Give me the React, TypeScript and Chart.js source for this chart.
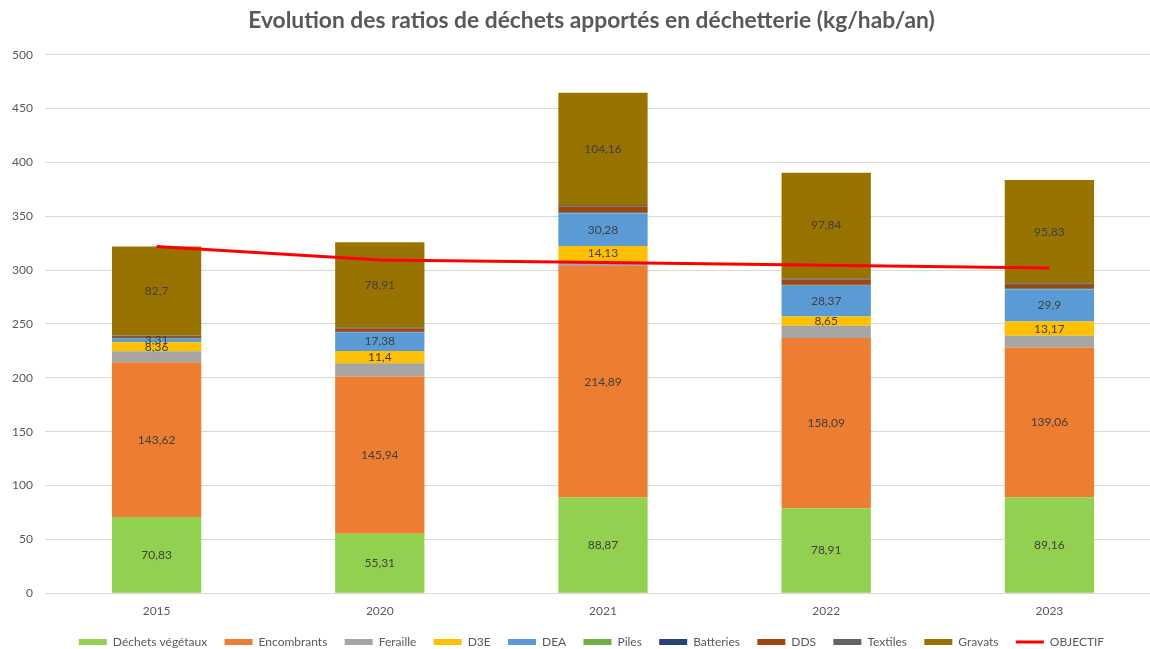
import React, { useEffect, useRef } from "react";
import { Chart, registerables } from "chart.js";

Chart.register(...registerables);

const categories = ["2015", "2020", "2021", "2022", "2023"];

const vegetaux = [70.83, 55.31, 88.87, 78.91, 89.16];
const encombrants = [143.62, 145.94, 214.89, 158.09, 139.06];
const feraille = [10.2, 12.3, 4.5, 11.4, 10.8];
const d3e = [8.36, 11.4, 14.13, 8.65, 13.17];
const dea = [3.31, 17.38, 30.28, 28.37, 29.9];
const piles = [0.2, 0.2, 0.3, 0.3, 0.3];
const batteries = [0.3, 0.3, 0.4, 0.8, 0.5];
const dds = [1.2, 3.3, 5.5, 4.5, 3.4];
const textiles = [1.2, 0.8, 1.5, 1.5, 1.5];
const gravats = [82.7, 78.91, 104.16, 97.84, 95.83];
const objectif = [321.9, 309.5, 307, 304.5, 302];

const yTicks = { min: 0, max: 500, step: 50 };

const FONT = "Lato, 'Open Sans', 'Liberation Sans', sans-serif";
const TEXT = "#595959";

const labelPlugin = {
  id: "segLabels",
  afterDatasetsDraw(chart: any) {
    const ctx = chart.ctx;
    ctx.save();
    ctx.font = `12px ${FONT}`;
    ctx.fillStyle = "#404040";
    ctx.textAlign = "center";
    ctx.textBaseline = "middle";
    chart.data.datasets.forEach((ds: any, i: number) => {
      if (!ds.showLabels) return;
      const meta = chart.getDatasetMeta(i);
      meta.data.forEach((el: any, j: number) => {
        const p = el.getProps(["x", "y", "base"], true);
        const v = ds.data[j];
        ctx.fillText(String(v).replace(".", ","), p.x, (p.y + p.base) / 2);
      });
    });
    ctx.restore();
  },
};

// centre title and legend on the whole chart frame rather than the plot
const shiftPlugin = {
  id: "shiftBlocks",
  afterLayout(chart: any) {
    const shift = 22;
    [chart.legend, chart.titleBlock].forEach((b: any) => {
      if (b) {
        b.left += shift;
      }
    });
  },
};

export default function App() {
  const ref = useRef<HTMLCanvasElement | null>(null);
  useEffect(() => {
    if (!ref.current) return;
    const bar = (label: string, data: number[], color: string, showLabels: boolean) => ({
      type: "bar" as const,
      label,
      data,
      backgroundColor: color,
      borderWidth: 0,
      stack: "s",
      order: 1,
      showLabels,
      categoryPercentage: 1,
      barPercentage: 0.4,
    });
    const chart = new Chart(ref.current, {
      type: "bar",
      data: {
        labels: categories,
        datasets: [
          bar("Déchets végétaux", vegetaux, "#92D050", true),
          bar("Encombrants", encombrants, "#ED7D31", true),
          bar("Feraille", feraille, "#A5A5A5", false),
          bar("D3E", d3e, "#FFC000", true),
          bar("DEA", dea, "#5B9BD5", true),
          bar("Piles", piles, "#70AD47", false),
          bar("Batteries", batteries, "#264478", false),
          bar("DDS", dds, "#9E480E", false),
          bar("Textiles", textiles, "#636363", false),
          bar("Gravats", gravats, "#997300", true),
          {
            type: "line" as const,
            label: "OBJECTIF",
            data: objectif,
            borderColor: "#FF0000",
            backgroundColor: "#FF0000",
            borderWidth: 3,
            pointRadius: 0,
            tension: 0,
            stack: "obj",
            order: 0,
          } as any,
        ] as any,
      },
      options: {
        animation: false,
        responsive: false,
        maintainAspectRatio: false,
        devicePixelRatio: 1,
        layout: { padding: { left: 0, right: 21, top: 0, bottom: 0 } },
        font: { family: FONT },
        plugins: {
          tooltip: { enabled: false },
          title: {
            display: true,
            text: "Evolution des ratios de déchets apportés en déchetterie (kg/hab/an)",
            color: TEXT,
            font: { family: FONT, size: 22.8, weight: "bold" },
            padding: { top: 7, bottom: 20.3 },
          },
          legend: {
            position: "bottom",
            labels: {
              usePointStyle: true,
              pointStyleWidth: 28,
              boxHeight: 6,
              padding: 17.3,
              color: TEXT,
              font: { family: FONT, size: 12 },
              sort: (a: any, b: any) => a.datasetIndex - b.datasetIndex,
              generateLabels: (c: any) =>
                (Chart.defaults.plugins.legend.labels as any)
                  .generateLabels(c)
                  .map((l: any) => ({
                    ...l,
                    pointStyle: l.datasetIndex === 10 ? "line" : "rect",
                  })),
            },
          },
        },
        scales: {
          x: {
            stacked: true,
            grid: { display: false, drawTicks: false },
            border: { display: false },
            ticks: { color: TEXT, font: { family: FONT, size: 12 }, padding: 11 },
            afterFit: (s: any) => {
              s.height = 25.4;
            },
          },
          y: {
            stacked: true,
            min: yTicks.min,
            max: yTicks.max,
            ticks: { stepSize: yTicks.step, color: TEXT, font: { family: FONT, size: 12 }, padding: 12 },
            grid: { color: "#D9D9D9", drawTicks: false, lineWidth: 1 },
            border: { display: false },
            afterFit: (s: any) => {
              s.width = 45;
            },
          },
        },
      } as any,
      plugins: [labelPlugin, shiftPlugin],
    });
    return () => chart.destroy();
  }, []);
  return (
    <div
      style={{
        position: "fixed",
        left: 0,
        top: 0,
        width: 1150,
        height: 649,
        overflow: "hidden",
        background: "#fff",
      }}
    >
      <canvas ref={ref} width={1182} height={658} style={{ display: "block", width: 1182, height: 658 }} />
    </div>
  );
}
